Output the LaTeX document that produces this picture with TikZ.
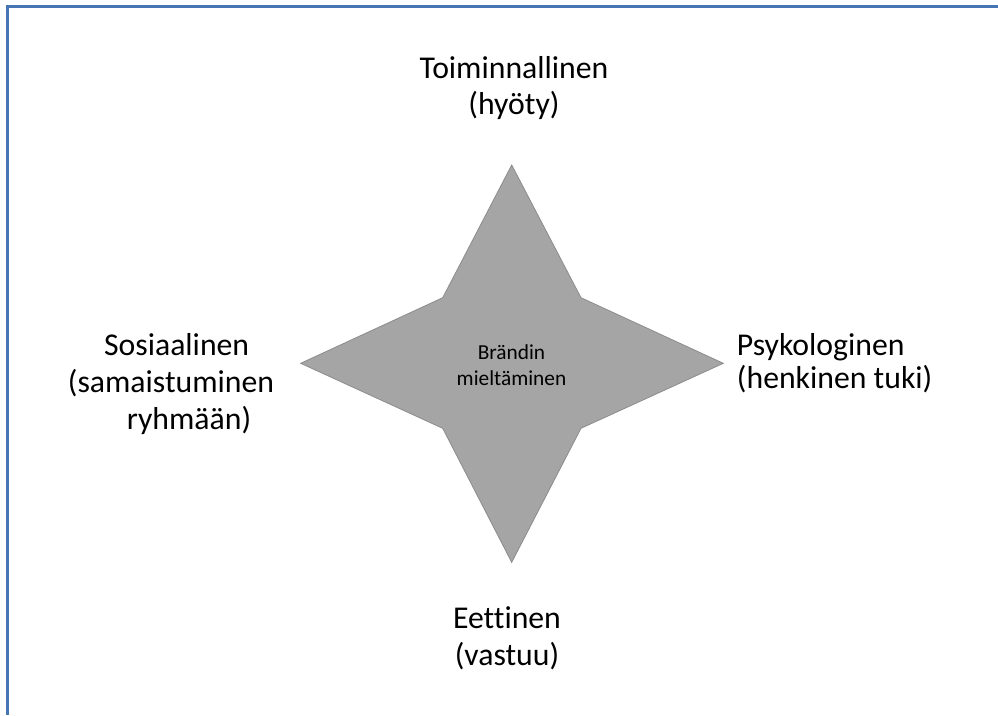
\documentclass[tikz,border=0pt]{standalone}
\usepackage{fontspec}
\setmainfont{Carlito}[Ligatures=NoCommon]
\usetikzlibrary{positioning}
\definecolor{frame}{HTML}{4677B4}
\definecolor{starfill}{HTML}{A5A5A5}
\definecolor{staredge}{HTML}{8C8C8C}
\tikzset{
  lbl/.style     ={inner sep=0pt, font=\fontsize{23.8}{27.5}\selectfont, align=center},
  % right label is left aligned and a little tighter
  lblleft/.style ={lbl, align=left, font=\fontsize{23.8}{25}\selectfont},
  core/.style    ={inner sep=0pt, font=\fontsize{16}{20}\selectfont, align=center},
  starpath/.style={fill=starfill, draw=staredge, line width=0.6pt, line join=miter},
  framepath/.style={draw=frame, line width=1.6pt},
}

\begin{document}
\begin{tikzpicture}[x=0.75pt, y=-0.75pt]
    \useasboundingbox (0,0) rectangle (998,715);
    % frame: top and left edge only
    \draw[framepath] (7.5,715) -- (7.5,6.5) -- (998,6.5);
    % four-point star
    \draw[starpath] (511.7,165) -- (581,297.7) -- (723.3,363.3) -- (581,428.3)
        -- (511.7,562.3) -- (442.7,428.3) -- (300.7,363.3) -- (442.7,297.7) -- cycle;
    \node[core] (brand) at (511.5,365) {Brändin\\mieltäminen};
    \node[lbl] (func) at (514,88) {Toiminnallinen\\(hyöty)};
    \node[lbl] (soc) at (171,384) {\hspace*{8.5pt}Sosiaalinen\\(samaistuminen\\\hspace*{27pt}ryhmään)};
    \node[lblleft, anchor=west] (psy) at (736.7,363) {Psykologinen\\(henkinen tuki)};
    \node[lbl] (eth) at (507,638) {Eettinen\\(vastuu)};
\end{tikzpicture}
\end{document}
